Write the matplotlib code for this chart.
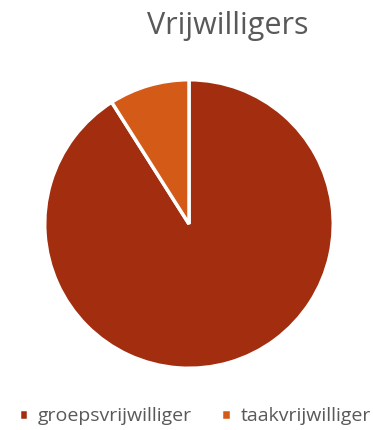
import matplotlib.pyplot as plt

labels = ["groepsvrijwilliger", "taakvrijwilliger"]
values = [91, 9]
colors = ["#A32D0F", "#D45A17"]

plt.rcParams["font.family"] = ["Open Sans", "DejaVu Sans"]

fig = plt.figure(figsize=(3.73, 4.30), dpi=100)
ax = fig.add_axes([44 / 373, 1 - 369 / 430, 290 / 373, 290 / 430])

wedges, _ = ax.pie(values, colors=colors, startangle=90, counterclock=False,
                   wedgeprops=dict(edgecolor="white", linewidth=2.5))
ax.set_xlim(-1.005, 1.005)
ax.set_ylim(-1.005, 1.005)
ax.set_aspect("equal")

fig.text(228 / 373, 1 - 26 / 430, "Vrijwilligers", ha="center", va="center",
         fontsize=22, color="#595959")

fig.legend(wedges, labels, loc="center", bbox_to_anchor=(195 / 373, 1 - 416 / 430),
           ncol=2, frameon=False, fontsize=14, labelcolor="#595959",
           handlelength=0.5, handleheight=0.5, handletextpad=0.5,
           columnspacing=1.5)

fig.savefig("out.png", dpi=100)
